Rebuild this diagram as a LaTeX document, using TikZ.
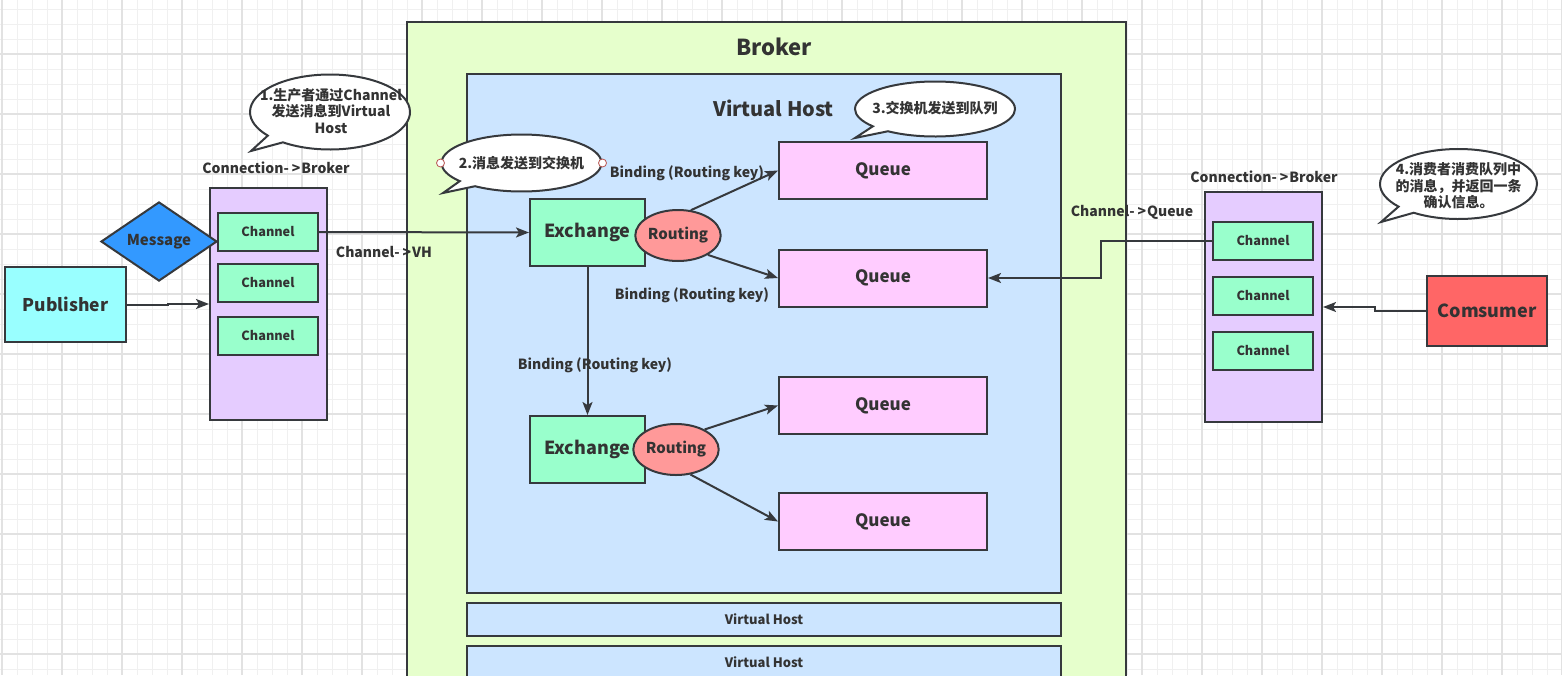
\documentclass[tikz,border=0pt]{standalone}
\usepackage{fontspec}
\setmainfont{Noto Sans CJK SC}
\usetikzlibrary{positioning,arrows.meta,shapes.geometric,shapes.callouts}

\definecolor{gridA}{HTML}{F0F0F0}
\definecolor{gridB}{HTML}{E2E2E2}
\definecolor{edgec}{HTML}{36393D}
\definecolor{txtc}{HTML}{333333}
\definecolor{brokerfill}{HTML}{E6FFCC}
\definecolor{vhfill}{HTML}{CCE5FF}
\definecolor{connfill}{HTML}{E5CCFF}
\definecolor{chanfill}{HTML}{99FFCC}
\definecolor{queuefill}{HTML}{FFCCFF}
\definecolor{routfill}{HTML}{FF9999}
\definecolor{pubfill}{HTML}{99FFFF}
\definecolor{consfill}{HTML}{FF6666}
\definecolor{msgfill}{HTML}{3399FF}
\definecolor{handlec}{HTML}{B85450}

\newcommand{\fsz}[1]{\fontsize{#1}{#1}\selectfont}
\newcommand{\toarr}{-\kern3pt>\kern1pt}

\begin{document}
\begin{tikzpicture}[x=1pt, y=-1pt,
  gridmin/.style={draw=gridA, line width=0.9pt},
  gridmaj/.style={draw=gridB, line width=1.1pt},
  lbl/.style={font=\bfseries\fsz{14}, text=txtc, inner sep=1pt},
  box/.style={rectangle, draw=edgec, line width=2pt, inner sep=0pt, text=txtc},
  brokerbox/.style={box, fill=brokerfill},
  vhbox/.style={box, fill=vhfill, font=\bfseries\fsz{13}},
  connbox/.style={box, fill=connfill, minimum width=117, minimum height=232},
  chan/.style={box, fill=chanfill, minimum width=100, minimum height=38, font=\bfseries\fsz{12.7}},
  exch/.style={box, fill=chanfill, minimum width=115, minimum height=67, font=\bfseries\fsz{18}},
  rout/.style={ellipse, draw=edgec, line width=2pt, fill=routfill, inner sep=0pt, minimum width=84, minimum height=51, text=txtc, font=\bfseries\fsz{15}},
  queue/.style={box, fill=queuefill, minimum width=208, minimum height=57, font=\bfseries\fsz{17}},
  bubble/.style={ellipse callout, draw=edgec, line width=2pt, fill=white, inner sep=0pt},
  bubtxt/.style={align=center, text=txtc, inner sep=0pt, font=\bfseries\fontsize{14}{16.5}\selectfont},
  handle/.style={circle, draw=handlec, line width=0.8pt, fill=white, inner sep=0pt, minimum size=8},
  arr/.style={draw=edgec, line width=2pt, -{Stealth[length=13pt, width=10pt, inset=3pt]}}
]
\useasboundingbox (0,0) rectangle (1562,675);
\clip (0,0) rectangle (1562,675);

% background grid
\fill[white] (0,0) rectangle (1562,675);
\foreach \x in {2,17,...,1562} \draw[gridmin] (\x,0) -- (\x,675);
\foreach \y in {9,24,...,675} \draw[gridmin] (0,\y) -- (1562,\y);
\foreach \x in {2,62,...,1562} \draw[gridmaj] (\x,0) -- (\x,675);
\foreach \y in {54,114,...,675} \draw[gridmaj] (0,\y) -- (1562,\y);

% broker and virtual hosts
\node[brokerbox, minimum width=719, minimum height=678] (broker) at (766.5,361) {};
\node[font=\bfseries\fsz{22}, text=txtc] (brokert) at (774,47) {Broker};
\node[vhbox, minimum width=594, minimum height=519] (vh1) at (764,333.5) {};
\node[font=\bfseries\fsz{20}, text=txtc] (vh1t) at (773.5,108) {Virtual Host};
\node[vhbox, minimum width=594, minimum height=33] (vh2) at (764,619.5) {Virtual Host};
\node[vhbox, minimum width=594, minimum height=32] (vh3) at (764,662) {Virtual Host};

% publisher side
\node[box, fill=pubfill, minimum width=121, minimum height=75, font=\bfseries\fsz{17.5}] (pub) at (65.5,304.5) {Publisher};
\node[connbox] (conl) at (268.5,304) {};
\node[lbl] (conlt) at (276,168) {Connection\toarr Broker};
\node[chan] (chl1) at (268,232) {Channel};
\node[chan] (chl2) at (268,283) {Channel};
\node[chan] (chl3) at (268,336) {Channel};
\node[diamond, draw=edgec, line width=2pt, fill=msgfill, inner sep=0pt, minimum width=116, minimum height=57, text=txtc, font=\bfseries\fsz{15}] (msg) at (159,241.5) {Message};

% exchanges and queues
\node[exch] (ex1) at (587.5,232.5) {Exchange};
\node[rout] (rt1) at (678,235.5) {Routing};
\node[exch] (ex2) at (587.5,449.5) {Exchange};
\node[rout] (rt2) at (676,449.5) {Routing};
\node[queue] (q1) at (883,170.5) {Queue};
\node[queue] (q2) at (883,278) {Queue};
\node[queue] (q3) at (883,405.5) {Queue};
\node[queue] (q4) at (883,521.5) {Queue};

% consumer side
\node[connbox, minimum height=230] (conr) at (1263.5,307) {};
\node[lbl] (conrt) at (1264,177) {Connection\toarr Broker};
\node[chan] (chr1) at (1263,240.5) {Channel};
\node[chan] (chr2) at (1263,295.5) {Channel};
\node[chan] (chr3) at (1263,350.5) {Channel};
\node[box, fill=consfill, minimum width=120, minimum height=70, font=\bfseries\fsz{18}] (cons) at (1487,311) {Comsumer};

% connectors
\draw[arr] (pub.east) -- (168,304.5) -- (168,304) -- (conl.west);
\draw[arr] (chl1.east) -- (ex1.west);
\draw[arr] (rt1.63) -- (q1.west);
\draw[arr] (rt1.-33) -- (q2.west);
\draw[arr] (ex1.south) -- (ex2.north);
\draw[arr] (rt2.35) -- (q3.west);
\draw[arr] (rt2.-60) -- (q4.west);
\draw[arr] (chr1.west) -- (1101,240.5) |- (q2.east);
\draw[arr] (cons.west) -- (1375,311) |- (conr.east);

% edge labels
\node[lbl] (l1) at (384,252) {Channel\toarr VH};
\node[lbl] (l2) at (687,173) {Binding (Routing key)};
\node[lbl] (l3) at (692,295) {Binding (Routing key)};
\node[lbl] (l4) at (595,365) {Binding (Routing key)};
\node[lbl] (l5) at (1132,212) {Channel\toarr Queue};

% speech bubbles
\node[bubble, minimum width=160, minimum height=75, callout absolute pointer={(251,151)}] (b1) at (330,112) {};
\node[bubtxt] (b1t) at (331,111) {1.生产者通过Channel\\发送消息到Virtual\\Host};
\node[bubble, minimum width=160, minimum height=57, callout absolute pointer={(443,193)}] (b2) at (521.5,163) {};
\node[bubtxt] (b2t) at (521.5,163) {2.消息发送到交换机};
\node[handle] (h1) at (b2.west) {};
\node[handle] (h2) at (b2.east) {};
\node[bubble, minimum width=160, minimum height=55, callout absolute pointer={(855,138)}] (b3) at (935,109) {};
\node[bubtxt] (b3t) at (935,108) {3.交换机发送到队列};
\node[bubble, minimum width=157, minimum height=70, callout absolute pointer={(1381,222)}] (b4) at (1458.5,184) {};
\node[bubtxt] (b4t) at (1458.5,186) {4.消费者消费队列中\\的消息，并返回一条\\确认信息。};

\end{tikzpicture}
\end{document}
